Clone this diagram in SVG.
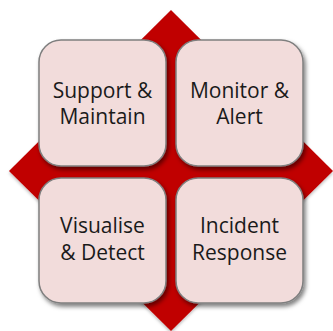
<svg xmlns="http://www.w3.org/2000/svg" width="333" height="331" viewBox="0 0 333 331">
<defs>
<filter id="sh" x="-20%" y="-20%" width="140%" height="140%">
<feDropShadow dx="2" dy="3" stdDeviation="2.2" flood-color="#000" flood-opacity="0.5"/>
</filter>
<filter id="dsh" x="-10%" y="-10%" width="120%" height="120%">
<feDropShadow dx="0" dy="2" stdDeviation="1.5" flood-color="#000" flood-opacity="0.25"/>
</filter>
</defs>
<style>
.box{fill:#F2DCDB;stroke:#7F7F7F;stroke-width:1.5;filter:url(#sh)}
.t{font-family:"Open Sans","DejaVu Sans",sans-serif;font-size:21px;fill:#1a1a1a;text-anchor:middle}
</style>
<g id="diamond"><polygon points="171,10 333,171 171,331 9,171" fill="#C00000" filter="url(#dsh)"/></g>
<g id="support"><rect class="box" x="39" y="40" width="127" height="126" rx="22"/><text class="t" x="102.5" y="98">Support &amp;</text><text class="t" x="102.5" y="124">Maintain</text></g>
<g id="monitor"><rect class="box" x="176" y="40" width="127" height="126" rx="22"/><text class="t" x="239.5" y="98">Monitor &amp;</text><text class="t" x="239.5" y="124">Alert</text></g>
<g id="visualise"><rect class="box" x="39" y="178" width="127" height="125" rx="22"/><text class="t" x="102.5" y="233">Visualise</text><text class="t" x="102.5" y="260">&amp; Detect</text></g>
<g id="incident"><rect class="box" x="176" y="178" width="127" height="125" rx="22"/><text class="t" x="239.5" y="233">Incident</text><text class="t" x="239.5" y="260">Response</text></g>
<g id="connectors"/>
</svg>
